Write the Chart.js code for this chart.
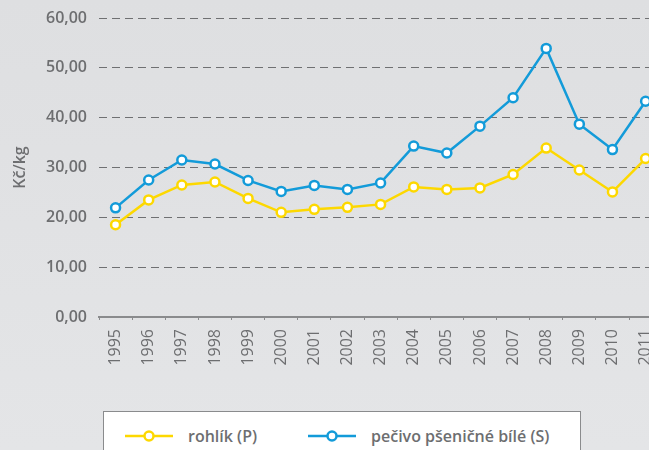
<!DOCTYPE html>
<html>
<head>
<meta charset="utf-8">
<script src="https://cdn.jsdelivr.net/npm/chart.js@4"></script>
<style>
  html, body { margin: 0; padding: 0; }
  body {
    width: 649px; height: 450px; overflow: hidden; position: relative;
    background: linear-gradient(#dedfe1, #e4e5e7);
    font-family: "Open Sans", sans-serif;
  }
  #wrap { position: absolute; left: 0; top: -2px; width: 674px; height: 382px; }
  #legend {
    position: absolute; left: 103px; top: 411px; width: 478px; height: 60px;
    background: #fff; border: 1px solid #8a8b8d; box-sizing: border-box;
  }
  .item { position: absolute; top: 11px; height: 26px; display: flex; align-items: center; color: #6d6e70; font-size: 16px; font-weight: 600; }
  .item svg { margin-right: 15px; }
</style>
</head>
<body>
<div id="wrap"><canvas id="chart" width="674" height="382"></canvas></div>
<div id="legend"></div>
<script>
// ------ Data ------
const years = ['1995','1996','1997','1998','1999','2000','2001','2002','2003','2004','2005','2006','2007','2008','2009','2010','2011'];
const rohlik = [18.5, 23.5, 26.5, 27.1, 23.8, 21.0, 21.6, 22.0, 22.6, 26.1, 25.6, 25.9, 28.6, 33.9, 29.5, 25.1, 31.8];
const pecivo = [21.9, 27.5, 31.5, 30.7, 27.4, 25.2, 26.4, 25.6, 26.9, 34.3, 32.9, 38.3, 44.0, 53.9, 38.7, 33.6, 43.3];
const seriesNames = ['rohlík (P)', 'pečivo pšeničné bílé (S)'];
const yTicks = [0, 10, 20, 30, 40, 50, 60];

const yellow = '#fdd800';
const blue = '#139bd9';
const grey = '#6d6e70';

function ds(label, data, color) {
  return {
    label, data,
    borderColor: color, borderWidth: 2.5,
    pointRadius: 4.5, pointHoverRadius: 4.5,
    pointBackgroundColor: '#fff', pointBorderColor: color, pointBorderWidth: 2.5,
    tension: 0
  };
}

new Chart(document.getElementById('chart').getContext('2d'), {
  type: 'line',
  data: {
    labels: years,
    datasets: [ds(seriesNames[0], rohlik, yellow), ds(seriesNames[1], pecivo, blue)]
  },
  options: {
    responsive: false,
    animation: false,
    layout: { padding: { top: 10, right: 0, bottom: 0, left: 0 } },
    plugins: { legend: { display: false }, tooltip: { enabled: false } },
    scales: {
      x: {
        offset: true,
        grid: { display: true, drawOnChartArea: false, offset: true, tickLength: 3, color: '#8a8b8d', lineWidth: 1 },
        border: { display: true, color: '#8a8b8d', width: 2 },
        ticks: { minRotation: 90, maxRotation: 90, color: grey, padding: 9, font: { family: 'Open Sans', size: 16 } },
        afterFit: s => { s.height = 63; }
      },
      y: {
        min: 0, max: 60,
        afterBuildTicks: s => { s.ticks = yTicks.map(v => ({ value: v })); },
        afterFit: s => { s.width = 99; },
        grid: { color: '#6f7072', lineWidth: 1, drawTicks: false },
        border: { display: false, dash: [8, 5] },
        ticks: {
          padding: 12, color: grey,
          font: { family: 'Open Sans', size: 16, weight: '600', lineHeight: 1 },
          callback: v => v.toFixed(2).replace('.', ',')
        },
        title: {
          display: true, text: 'Kč/kg', color: grey, padding: { top: 11, bottom: 0 },
          font: { family: 'Open Sans', size: 16, weight: '600' }
        }
      }
    }
  }
});

// ------ Legend ------
const legend = document.getElementById('legend');
[[seriesNames[0], yellow, 21], [seriesNames[1], blue, 204]].forEach(([name, color, left]) => {
  const el = document.createElement('div');
  el.className = 'item';
  el.style.left = left + 'px';
  el.innerHTML = `<svg width="48" height="14"><line x1="0" y1="7" x2="48" y2="7" stroke="${color}" stroke-width="2.5"/>` +
    `<circle cx="24" cy="7" r="4.5" fill="#fff" stroke="${color}" stroke-width="2.5"/></svg><span>${name}</span>`;
  legend.appendChild(el);
});
</script>
</body>
</html>
